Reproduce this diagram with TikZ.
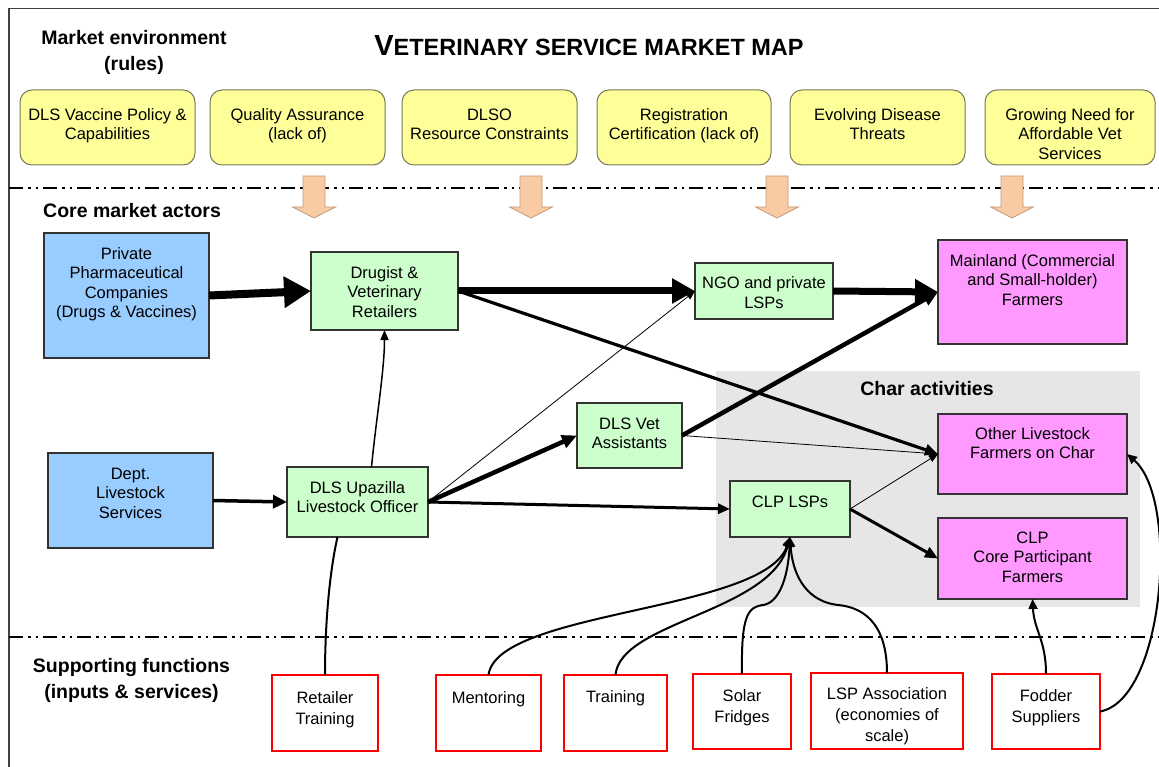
\documentclass[tikz,border=0pt]{standalone}
\usepackage{fontspec}
\setmainfont{Liberation Sans}
\usetikzlibrary{arrows.meta}
\definecolor{yel}{HTML}{FFFF99}
\definecolor{yelb}{HTML}{77775A}
\definecolor{blu}{HTML}{99CCFF}
\definecolor{grn}{HTML}{CCFFCC}
\definecolor{mag}{HTML}{FF99FF}
\definecolor{gry}{HTML}{E6E6E6}
\definecolor{pch}{HTML}{F9CBA5}
\definecolor{pchb}{HTML}{C49A7A}
\definecolor{frm}{HTML}{404040}
\definecolor{redb}{HTML}{FF0000}
\begin{document}
\begin{tikzpicture}[x=1pt,y=-1pt,
  box/.style={draw=black!80, line width=1.2pt, inner sep=0pt, outer sep=0pt},
  ybox/.style={draw=yelb, line width=1pt, fill=yel, rounded corners=12pt, inner sep=0pt, outer sep=0pt, minimum height=75pt},
  bbox/.style={box, fill=blu},
  gbox/.style={box, fill=grn},
  mbox/.style={box, fill=mag},
  rbox/.style={draw=redb, line width=2.4pt, fill=white, inner sep=0pt, outer sep=0pt},
  tx/.style={anchor=north, align=center, inner sep=0pt, text height=12pt, text depth=4pt, font=\fontsize{16.5}{19.5}\selectfont},
  rtx/.style={tx, font=\fontsize{16.5}{21}\selectfont},
  sec/.style={anchor=north, align=center, inner sep=0pt, text height=14.5pt, text depth=5pt, font=\fontsize{19.5}{26.5}\selectfont\bfseries},
  dashdotline/.style={line width=2.4pt, dash pattern=on 14pt off 5pt on 2.5pt off 5pt on 2.5pt off 5pt},
  huge/.style={line width=8pt, -{Triangle[length=27pt,width=30pt]}},
  big/.style={line width=7pt, -{Triangle[length=23pt,width=24pt]}},
  med/.style={line width=4.5pt, -{Triangle[length=15pt,width=13pt]}},
  mid/.style={line width=3.2pt, -{Triangle[length=13pt,width=11pt]}},
  thin/.style={line width=0.8pt, -{Triangle[length=9pt,width=7pt]}},
  sup/.style={line width=2pt, -{Triangle[length=10pt,width=9pt]}},
]
\useasboundingbox (0,0) rectangle (1159,767);
\fill[white] (0,0) rectangle (1159,767);
% frame
\draw[frm, line width=1.5pt] (9,767) -- (9,8.5) -- (1159,8.5);
% char region
\fill[gry] (716,371) rectangle (1140,607);
% dash-dot separators
\draw[dashdotline] (9,188) -- (1159,188);
\draw[dashdotline] (9,637) -- (1159,637);
% title and section labels
\node[inner sep=0pt] (title) at (589,46) {\bfseries\fontsize{29}{29}\selectfont V\fontsize{23.5}{23.5}\selectfont ETERINARY SERVICE MARKET MAP};
\node[sec] (lab1) at (134,56) {Market environment\\(rules)};
\node[sec, anchor=north west] (lab2) at (43,202.5) {Core market actors};
\node[sec] (lab3) at (131.5,684) {Supporting functions\\(inputs \& services)};
\node[sec] (lab4) at (927,380.5) {Char activities};
% yellow boxes
\node[ybox, minimum width=175pt] (y1) at (107.5,127.5) {};
\node[ybox, minimum width=175pt] (y2) at (297.5,127.5) {};
\node[ybox, minimum width=175pt] (y3) at (489.5,127.5) {};
\node[ybox, minimum width=174pt] (y4) at (684,127.5) {};
\node[ybox, minimum width=175pt] (y5) at (877.5,127.5) {};
\node[ybox, minimum width=170pt] (y6) at (1070,127.5) {};
\node[tx] (y1t) at (107.5,127.5) {DLS Vaccine Policy \&\\Capabilities};
\node[tx] (y2t) at (297.5,127.5) {Quality Assurance\\(lack of)};
\node[tx] (y3t) at (489.5,127.5) {DLSO\\Resource Constraints};
\node[tx] (y4t) at (684,127.5) {Registration\\Certification (lack of)};
\node[tx] (y5t) at (877.5,127.5) {Evolving Disease\\Threats};
\node[tx] (y6t) at (1070,147) {Growing Need for\\Affordable Vet\\Services};
% block arrows
\foreach \cx in {314,531,777,1012}
  \filldraw[fill=pch, draw=pchb, line width=0.8pt] (\cx-11,176) -- (\cx+11,176) -- (\cx+11,207) -- (\cx+21.5,207) -- (\cx,218) -- (\cx-21.5,207) -- (\cx-11,207) -- cycle;
% actor boxes
\node[bbox, minimum width=165pt, minimum height=125pt] (pharma) at (126.5,295.5) {};
\node[bbox, minimum width=165pt, minimum height=95pt] (dept) at (130.5,500.5) {};
\node[gbox, minimum width=147pt, minimum height=78pt] (drug) at (384.5,291) {};
\node[gbox, minimum width=141pt, minimum height=70pt] (ups) at (357.5,502) {};
\node[gbox, minimum width=138pt, minimum height=56pt] (ngo) at (764,291) {};
\node[gbox, minimum width=105pt, minimum height=65pt] (dvet) at (629.5,435.5) {};
\node[gbox, minimum width=120pt, minimum height=56pt] (clp) at (790,509) {};
\node[mbox, minimum width=189pt, minimum height=104pt] (main) at (1032.5,292) {};
\node[mbox, minimum width=189pt, minimum height=80pt] (oth) at (1032.5,454) {};
\node[mbox, minimum width=189pt, minimum height=81pt] (core) at (1032.5,558.5) {};
\node[tx] (pharmat) at (126.5,305.5) {Private\\Pharmaceutical\\Companies\\(Drugs \& Vaccines)};
\node[tx] (deptt) at (130.5,506) {Dept.\\Livestock\\Services};
\node[tx] (drugt) at (384.5,305) {Drugist \&\\Veterinary\\Retailers};
\node[tx] (upst) at (357.5,500.5) {DLS Upazilla\\Livestock Officer};
\node[tx] (ngot) at (764,296) {NGO and private\\LSPs};
\node[tx] (dvett) at (629.5,436.5) {DLS Vet\\Assistants};
\node[tx] (clpt) at (790,495) {CLP LSPs};
\node[tx] (maint) at (1032.5,293) {Mainland (Commercial\\and Small-holder)\\Farmers};
\node[tx] (otht) at (1032.5,446.5) {Other Livestock\\Farmers on Char};
\node[tx] (coret) at (1032.5,570) {CLP\\Core Participant\\Farmers};
% supporting boxes
\node[rbox, minimum width=106pt, minimum height=76pt] (rt) at (325,713) {};
\node[rbox, minimum width=105pt, minimum height=76pt] (men) at (488.5,713) {};
\node[rbox, minimum width=103pt, minimum height=76pt] (trn) at (615.5,713) {};
\node[rbox, minimum width=98pt, minimum height=75pt] (sol) at (742,711.5) {};
\node[rbox, minimum width=152pt, minimum height=76pt] (lsp) at (887,711) {};
\node[rbox, minimum width=108pt, minimum height=75pt] (fod) at (1046,711.5) {};
\node[rtx] (rtt) at (325,712) {Retailer\\Training};
\node[rtx] (ment) at (488.5,691) {Mentoring};
\node[rtx] (trnt) at (615.5,690) {Training};
\node[rtx] (solt) at (742,710) {Solar\\Fridges};
\node[rtx] (lspt) at (887,729) {LSP Association\\(economies of\\scale)};
\node[rtx] (fodt) at (1046,710) {Fodder\\Suppliers};
% connectors
\draw[huge] (pharma.east) -- (drug.west);
\draw[big] (drug.east) -- (ngo.west);
\draw[big] (ngo.east) -- (main.west);
\draw[mid] (drug.east) -- (oth.west);
\draw[line width=3.5pt, -{Triangle[length=14pt,width=13pt]}] (dept.east) -- (ups.west);
\draw[med] (ups.east) -- (dvet.west);
\draw[thin] (ups.east) -- (ngo.west);
\draw[line width=3pt, -{Triangle[length=12pt,width=10pt]}] (ups.east) -- (clp.west);
\draw[med] (dvet.east) -- (main.west);
\draw[thin] (dvet.east) -- (oth.west);
\draw[thin] (clp.east) -- (oth.west);
\draw[line width=3pt, -{Triangle[length=13pt,width=11pt]}] (clp.east) -- (core.west);
\draw[line width=1.5pt, -{Triangle[length=10pt,width=8pt]}] ([xshift=14pt]ups.north) .. controls (376,420) and (384.5,370) .. (drug.south);
\draw[line width=2pt] (rt.north) .. controls (325,620) and (330,570) .. ([xshift=-20pt]ups.south);
\draw[sup] (men.north) .. controls (497,610) and (765,612) .. (clp.south);
\draw[sup] (trn.north) .. controls (620,622) and (770,612) .. (clp.south);
\draw[sup] (sol.north) .. controls (741,615) and (748,607) .. (763,605) .. controls (778,603) and (788,580) .. (clp.south);
\draw[sup] (lsp.north) .. controls (887,620) and (860,607) .. (838,605) .. controls (810,602) and (793,580) .. (clp.south);
\draw[sup] (fod.north) .. controls (1046,640) and (1034,630) .. (core.south);
\draw[sup] (fod.east) .. controls (1164,700) and (1180,500) .. (oth.east);
\end{tikzpicture}
\end{document}
